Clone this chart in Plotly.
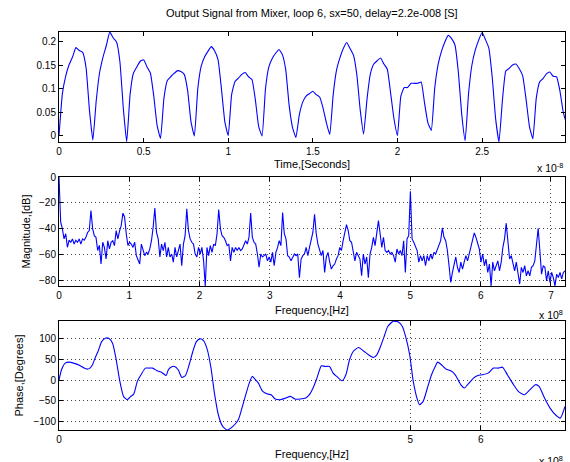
import numpy as np
import plotly.graph_objects as go

TITLE = "Output Signal from Mixer, loop 6, sx=50, delay=2.2e-008 [S]"

# ---- panel 1: time signal (time in units of 1e-8 s, one sample every 0.02) ----
time_step = 0.02
signal = [
    0.0, 0.09, 0.128, 0.152, 0.168, 0.188, 0.182, 0.178, 0.145, 0.055,
    -0.009, 0.075, 0.135, 0.168, 0.193, 0.221, 0.209, 0.200, 0.158, 0.059,
    -0.0125, 0.088, 0.134, 0.147, 0.159, 0.162, 0.147, 0.134, 0.085, 0.022,
    -0.005, 0.08, 0.118, 0.126, 0.133, 0.139, 0.137, 0.131, 0.097, 0.03,
    0.0, 0.10, 0.148, 0.168, 0.18, 0.19, 0.181, 0.162, 0.10, 0.03,
    0.001, 0.088, 0.116, 0.123, 0.131, 0.135, 0.126, 0.12, 0.078, 0.02,
    0.0, 0.10, 0.147, 0.165, 0.176, 0.184, 0.173, 0.14, 0.065, 0.018,
    -0.003, 0.045, 0.072, 0.085, 0.09, 0.095, 0.088, 0.083, 0.06, 0.028,
    0.003, 0.087, 0.14, 0.166, 0.186, 0.199, 0.186, 0.172, 0.13, 0.055,
    0.004, 0.078, 0.132, 0.153, 0.16, 0.166, 0.153, 0.142, 0.09, 0.035,
    0.001, 0.085, 0.103, 0.103, 0.112, 0.112, 0.112, 0.115, 0.07, 0.028,
    0.012, 0.101, 0.152, 0.18, 0.2, 0.214, 0.207, 0.193, 0.135, 0.045,
    -0.01, 0.09, 0.151, 0.183, 0.204, 0.220, 0.205, 0.187, 0.125, 0.037,
    -0.0128, 0.075, 0.138, 0.144, 0.151, 0.153, 0.143, 0.128, 0.078, 0.02,
    -0.006, 0.08, 0.115, 0.122, 0.132, 0.136, 0.127, 0.126, 0.096, 0.05,
    0.025,
]
time_ticks = [0, 0.5, 1, 1.5, 2, 2.5]
sig_ticks = [0, 0.05, 0.1, 0.15, 0.2]

# ---- panel 2: magnitude spectrum (frequency in units of 1e8 Hz) ----
bin_width = 1 / (2.2 * 19)
magnitude = [
    0,
    -35, -40, -48, -44, -54.5, -49, -50.6, -48, -52, -49, -50.6, -48, -52, -48, -49, -46.8, -43, -41.5,
    -26,
    -40, -45.5, -46.8, -57, -53, -67.5, -50.6, -54.5, -63.6, -49.4, -55.8, -50.6, -49.4, -53.2, -41.5, -48, -42, -37.7,
    -28,
    -31, -44, -53, -50.6, -52, -54.6, -50.6, -61, -65, -67.5, -52, -55.8, -61, -58.4, -59.7, -55.8, -49.4, -39,
    -24,
    -43, -48, -62, -52, -57, -50.6, -62, -54.6, -62, -59.7, -66, -54.6, -62, -57, -52, -68.8, -52, -45.5,
    -24.7,
    -41.5, -48, -50.6, -52, -59.7, -62, -54.6, -59.7, -54.6, -65, -84.4, -54.6, -61, -53.2, -58.4, -52, -53.2, -44,
    -25.2,
    -40, -45.5, -46.8, -49.4, -53.2, -52, -65, -54.6, -58.4, -54.6, -57, -54.6, -57, -55.8, -53.2, -49.4, -52, -46.8,
    -28,
    -46.8, -50.6, -52, -59.7, -70, -59.7, -62, -61, -59.7, -65, -62, -66, -58.4, -68.8, -58.4, -54.6, -49.4, -53.2,
    -27.5,
    -44, -48, -61, -62, -65, -62, -59.7, -61, -59.7, -78, -63.6, -61, -59.7, -54.6, -61, -54.6, -48, -43,
    -29,
    -44, -52, -57, -61, -57, -74, -62, -58.4, -66, -71.4, -68.8, -67.5, -63.6, -61, -54.6, -57, -49.4, -44,
    -37,
    -41.5, -49.4, -50.6, -59.7, -65, -58.4, -61, -63.6, -76.6, -59.7, -67.5, -62, -78, -59.7, -54.6, -46.8, -53.2, -41.5,
    -33.8,
    -44, -54.6, -46.8, -57, -58.4, -57, -59.7, -58.4, -61, -66, -55.8, -59.7, -57, -61, -49.4, -74, -48, -45.5,
    -11,
    -48, -50.6, -53.2, -57, -66, -61, -65, -61, -68.8, -61, -65, -59.7, -63.6, -58.4, -59.7, -55.8, -53.2, -49.4,
    -39.5,
    -46.8, -49.4, -57, -68.8, -81.8, -74, -67.5, -62, -70, -74, -66, -71.4, -66, -61, -65, -59.7, -53.2, -46.8,
    -43.4,
    -46.8, -50.6, -55.8, -66, -59.7, -68.8, -63.6, -74, -67.5, -84.4, -66, -72.7, -68.8, -65, -72.7, -66, -54.6, -48,
    -35.8,
    -50.6, -63.6, -61, -67.5, -72.7, -66, -75.3, -83, -70, -74, -68.8, -76.6, -72.7, -76.6, -70, -68.8, -65, -54.6,
    -39.7,
    -57, -75.3, -68.8, -70, -80.5, -72.7, -81.8, -74, -78, -84.4, -75.3, -78, -74, -79, -74, -72.7,
]
mag_xticks = [0, 1, 2, 3, 4, 5, 6, 7]
mag_yticks = [0, -20, -40, -60, -80]

# ---- panel 3: phase (frequency in units of 1e8 Hz) ----
phase_freq = [
    0, 0.036, 0.088, 0.14, 0.218, 0.296, 0.358, 0.40, 0.44, 0.477, 0.513, 0.555, 0.607, 0.659, 0.711,
    0.762, 0.814, 0.866, 0.918, 0.97, 1.022, 1.063, 1.115, 1.167, 1.229, 1.281, 1.333, 1.395, 1.463,
    1.525, 1.556, 1.592, 1.644, 1.696, 1.748, 1.80, 1.852, 1.904, 1.955, 2.007, 2.059, 2.111, 2.163,
    2.215, 2.267, 2.329, 2.396, 2.474, 2.552, 2.63, 2.707, 2.749, 2.785, 2.837, 2.899, 2.967, 3.019,
    3.07, 3.148, 3.226, 3.294, 3.356, 3.434, 3.511, 3.563, 3.615, 3.667, 3.734, 3.786, 3.849, 3.90,
    3.952, 4.03, 4.082, 4.134, 4.186, 4.263, 4.341, 4.404, 4.471, 4.523, 4.575, 4.627, 4.678, 4.756,
    4.834, 4.886, 4.938, 4.99, 5.041, 5.093, 5.13, 5.181, 5.249, 5.301, 5.353, 5.389, 5.441, 5.508,
    5.576, 5.638, 5.716, 5.768, 5.82, 5.898, 5.96, 6.027, 6.105, 6.183, 6.25, 6.312, 6.38, 6.468,
    6.535, 6.623, 6.701, 6.779, 6.831, 6.909, 6.987, 7.064, 7.132, 7.2,
]
phase_deg = [
    0, 24.7, 40.6, 43, 40, 35, 28.7, 26.3, 28.7, 36.7, 52.6, 68.5, 92, 100.4, 99.6,
    88.4, 48.6, -3.2, -39, -47, -39, -33.5, -3, 12.7, 28.7, 28.7, 28.7, 22.3, 18.3,
    11, 24.7, 31, 32.7, 24.7, 6.4, 11, 36.7, 68.5, 92, 98.8, 94, 72.5, 28.7,
    -35, -83, -110.8, -119.5, -110.8, -94.8, -51, -7.2, 8.8, 3.2, -7.2, -27, -33.5, -35,
    -44.6, -47, -43, -39, -45.4, -45.4, -43, -35, -19, 3.2, 34.3, 32.7, 32.7, 16.7,
    8.8, -1.6, 12.7, 48.6, 68.5, 78, 68.5, 60.6, 54.2, 60.6, 80.5, 104.4, 128.3, 141,
    138.6, 128.3, 100.4, 60.6, -3.2, -43, -59, -51, -15, 12.7, 32.7, 43, 36.7, 26.3,
    22.3, 12.7, -11, -19, -9.6, 4.8, 11, 12.7, 16.7, 28.7, 28.7, 31, 12.7, -11,
    -27, -35, -23, -11, -15, -43, -67, -83, -91, -63,
]
phase_xticks = [0, 5, 6]
phase_yticks = [-100, -50, 0, 50, 100]

# ---------------------------------------------------------------------------
time = np.arange(len(signal)) * time_step
freq = np.arange(len(magnitude)) * bin_width

W, H = 570, 462
ML, MR, MT, MB = 59, 5, 32, 32
PW, PH = W - ML - MR, H - MT - MB


def fx(px):
    return (px - ML) / PW


def fy(py):
    return 1 - (py - MT) / PH


rows = [(32, 142), (177, 286), (321, 430)]
FONT = "Liberation Sans, Arial, Helvetica, sans-serif"

fig = go.Figure()
fig.add_trace(go.Scatter(x=time, y=signal, mode="lines",
                         line=dict(color="#0000ff", width=1.1, shape="spline", smoothing=0.4),
                         xaxis="x", yaxis="y"))
fig.add_trace(go.Scatter(x=freq, y=magnitude, mode="lines",
                         line=dict(color="#0000ff", width=1.1), xaxis="x2", yaxis="y2"))
fig.add_trace(go.Scatter(x=phase_freq, y=phase_deg, mode="lines",
                         line=dict(color="#0000ff", width=1.1, shape="spline", smoothing=0.6),
                         xaxis="x3", yaxis="y3"))

base = dict(showline=True, linecolor="black", linewidth=1, mirror="ticks",
            ticks="inside", ticklen=4, tickwidth=1, tickcolor="black",
            tickfont=dict(family=FONT, size=10, color="black"), zeroline=False,
            showgrid=False, gridcolor="#444444", gridwidth=1, griddash="1px,3px")

fig.update_layout(
    width=W, height=H, margin=dict(l=ML, r=MR, t=MT, b=MB),
    paper_bgcolor="white", plot_bgcolor="white", showlegend=False,
    xaxis=dict(base, domain=[0, 1], anchor="y", range=[0, 2.99], tickvals=time_ticks),
    yaxis=dict(base, domain=[fy(rows[0][1]), fy(rows[0][0])], anchor="x",
               range=[-0.0128, 0.2212], tickvals=sig_ticks),
    xaxis2=dict(base, domain=[0, 1], anchor="y2", range=[0, 7.2], tickvals=mag_xticks, showgrid=True),
    yaxis2=dict(base, domain=[fy(rows[1][1]), fy(rows[1][0])], anchor="x2",
                range=[-84.5, 0], tickvals=mag_yticks, showgrid=True),
    xaxis3=dict(base, domain=[0, 1], anchor="y3", range=[0, 7.2], tickvals=phase_xticks, showgrid=True),
    yaxis3=dict(base, domain=[fy(rows[2][1]), fy(rows[2][0])], anchor="x3",
                range=[-119.5, 141.5], tickvals=phase_yticks, showgrid=True),
)

ann = []


def text(px, py, s, size=11, xanchor="center", angle=0):
    ann.append(dict(x=fx(px), y=fy(py), xref="paper", yref="paper", text=s, showarrow=False,
                    xanchor=xanchor, yanchor="middle", textangle=angle,
                    font=dict(family=FONT, size=size, color="black")))


text(312, 13, TITLE, size=11)
text(312, 164, "Time,[Seconds]")
text(312, 310, "Frequency,[Hz]")
text(312, 454, "Frequency,[Hz]")
text(25, 231.5, "Magnitude,[dB]", angle=-90)
text(18, 375.5, "Phase,[Degrees]", angle=-90)
text(565, 168, "x 10<sup>-8</sup>", size=10.5, xanchor="right")
text(565, 314, "x 10<sup>8</sup>", size=10.5, xanchor="right")
text(565, 460, "x 10<sup>8</sup>", size=10.5, xanchor="right")
fig.update_layout(annotations=ann)

fig.write_html("out.html", config={"displayModeBar": False},
               post_script="document.body.style.margin='0px';")
